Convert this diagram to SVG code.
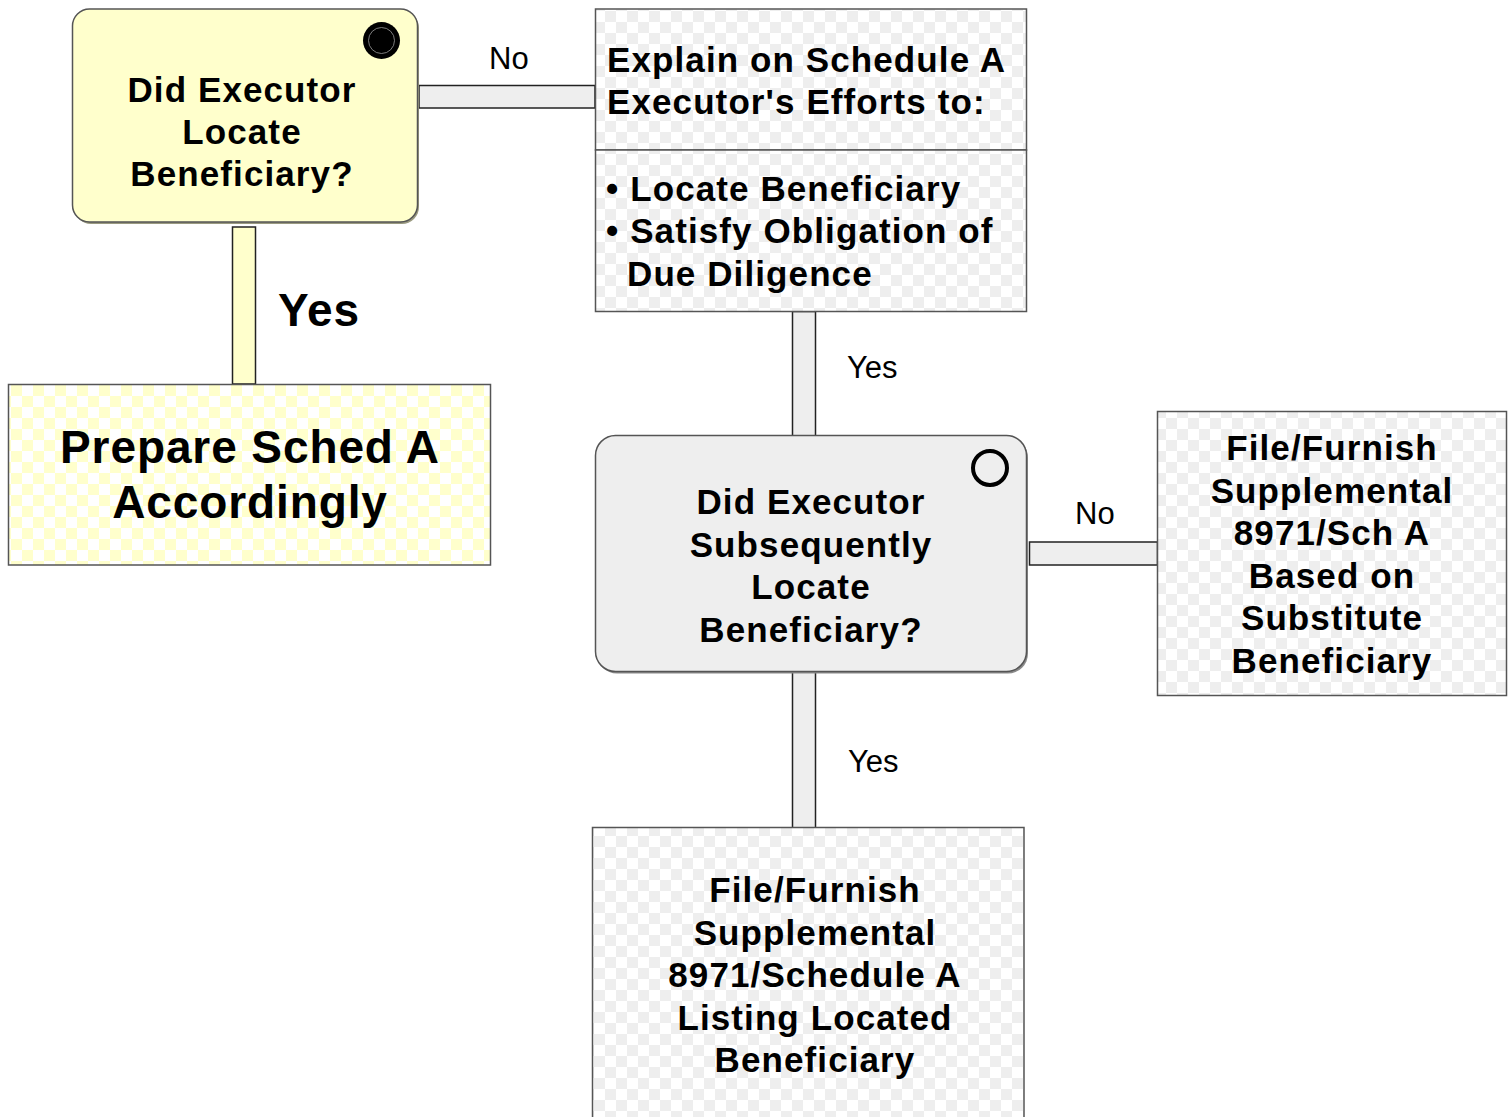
<svg xmlns="http://www.w3.org/2000/svg" width="1512" height="1117" viewBox="0 0 1512 1117">
  <defs>
    <pattern id="checkGray" patternUnits="userSpaceOnUse" width="22" height="22">
      <rect width="22" height="22" fill="#ffffff"/>
      <rect width="11" height="11" fill="#eeeeee"/>
      <rect x="11" y="11" width="11" height="11" fill="#eeeeee"/>
    </pattern>
    <pattern id="checkYellow" patternUnits="userSpaceOnUse" width="22" height="22">
      <rect width="22" height="22" fill="#ffffff"/>
      <rect width="11" height="11" fill="#ffffcc"/>
      <rect x="11" y="11" width="11" height="11" fill="#ffffcc"/>
    </pattern>
  </defs>
  <style>
    .bold { font-family: "Liberation Sans", Arial, sans-serif; font-weight: bold; font-size: 35px; letter-spacing: 1.1px; fill: #000; }
    .big { font-family: "Liberation Sans", Arial, sans-serif; font-weight: bold; font-size: 46px; letter-spacing: 0.9px; fill: #000; }
    .label { font-family: "Liberation Sans", Arial, sans-serif; font-size: 31px; fill: #000; }
    .mid { text-anchor: middle; }
    .box { stroke: #555555; stroke-width: 1.5; }
    .bar { stroke: #222222; stroke-width: 1.5; }
  </style>

  <rect width="1512" height="1117" fill="#ffffff"/>

  <!-- connectors -->
  <g id="connectors">
    <rect class="bar" x="419" y="85.5" width="176" height="22.5" fill="#eeeeee"/>
    <rect class="bar" x="232.5" y="227" width="23" height="157" fill="#ffffcc"/>
    <rect class="bar" x="792.5" y="311.5" width="23" height="125.5" fill="#eeeeee"/>
    <rect class="bar" x="1029.5" y="542" width="128" height="23" fill="#eeeeee"/>
    <rect class="bar" x="792.5" y="669.5" width="23" height="159" fill="#eeeeee"/>
    <text class="label" x="489" y="69">No</text>
    <text class="big" x="278" y="326">Yes</text>
    <text class="label" x="847" y="378">Yes</text>
    <text class="label" x="1075" y="524">No</text>
    <text class="label" x="848" y="772">Yes</text>
  </g>

  <!-- decision: did executor locate beneficiary -->
  <g id="decision-locate">
    <rect x="74" y="11" width="345" height="213" rx="17" fill="#9a9a80"/>
    <rect class="box" x="72.5" y="9" width="345" height="213" rx="17" fill="#ffffcc"/>
    <circle cx="381.5" cy="40.5" r="18.5" fill="#000000"/>
    <circle cx="381.5" cy="40.5" r="13" fill="none" stroke="#9a9a9a" stroke-width="0.8"/>
    <text class="bold mid" x="242" y="102"><tspan x="242" y="102">Did Executor</tspan><tspan x="242" y="144">Locate</tspan><tspan x="242" y="186">Beneficiary?</tspan></text>
  </g>

  <!-- task: explain efforts on schedule A -->
  <g id="explain-efforts">
    <rect class="box" x="595.5" y="9" width="431" height="141" fill="url(#checkGray)"/>
    <rect class="box" x="595.5" y="150" width="431" height="161.5" fill="url(#checkGray)"/>
    <text class="bold" x="607" y="72">Explain on Schedule A</text>
    <text class="bold" x="607" y="114">Executor's Efforts to:</text>
    <text class="bold" x="606" y="201">• Locate Beneficiary</text>
    <text class="bold" x="606" y="243">• Satisfy Obligation of</text>
    <text class="bold" x="627" y="286">Due Diligence</text>
  </g>

  <!-- task: prepare schedule A -->
  <g id="prepare-sched">
    <rect class="box" x="8.5" y="384.5" width="482" height="180.5" fill="url(#checkYellow)"/>
    <text class="big mid" x="250" y="463">Prepare Sched A</text>
    <text class="big mid" x="250" y="518">Accordingly</text>
  </g>

  <!-- decision: did executor subsequently locate beneficiary -->
  <g id="decision-subsequent">
    <rect x="597" y="437.5" width="431" height="236" rx="20" fill="#8a8a8a"/>
    <rect class="box" x="595.5" y="435.5" width="431" height="236" rx="20" fill="#eeeeee"/>
    <circle cx="990" cy="468" r="17" fill="none" stroke="#000000" stroke-width="4"/>
    <text class="bold mid" x="811" y="514"><tspan x="811" y="514">Did Executor</tspan><tspan x="811" y="557">Subsequently</tspan><tspan x="811" y="599">Locate</tspan><tspan x="811" y="642">Beneficiary?</tspan></text>
  </g>

  <!-- task: supplemental filing for substitute beneficiary -->
  <g id="file-substitute">
    <rect class="box" x="1157.5" y="411.5" width="349" height="284" fill="url(#checkGray)"/>
    <text class="bold mid" x="1332" y="460"><tspan x="1332" y="460">File/Furnish</tspan><tspan x="1332" y="502.5">Supplemental</tspan><tspan x="1332" y="545">8971/Sch A</tspan><tspan x="1332" y="587.5">Based on</tspan><tspan x="1332" y="630">Substitute</tspan><tspan x="1332" y="672.5">Beneficiary</tspan></text>
  </g>

  <!-- task: supplemental filing for located beneficiary -->
  <g id="file-located">
    <rect class="box" x="592.5" y="827.5" width="431.5" height="300" fill="url(#checkGray)"/>
    <text class="bold mid" x="815" y="902"><tspan x="815" y="902">File/Furnish</tspan><tspan x="815" y="944.5">Supplemental</tspan><tspan x="815" y="987">8971/Schedule A</tspan><tspan x="815" y="1029.5">Listing Located</tspan><tspan x="815" y="1072">Beneficiary</tspan></text>
  </g>
</svg>
